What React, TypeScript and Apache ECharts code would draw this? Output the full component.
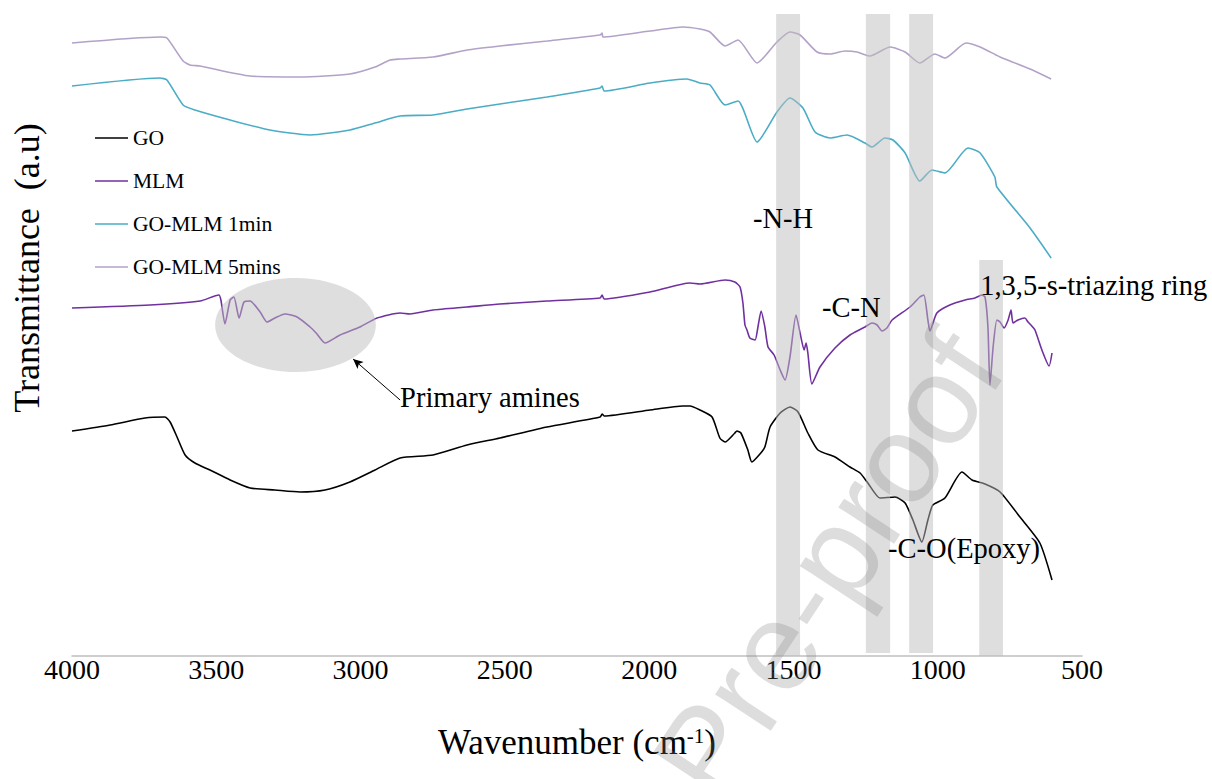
import React, { useEffect, useRef } from "react";
import * as echarts from "echarts";

// ---- series (wavenumber in cm-1, transmittance in arbitrary units) ----
const seriesNames = ["GO", "MLM", "GO-MLM 1min", "GO-MLM 5mins"];
const seriesColors = ["#000000", "#7030a0", "#4bacc6", "#b3a2c7"];

const goWn = [4000, 3868, 3747, 3678, 3660, 3636, 3608, 3574, 3522, 3452, 3383, 3297, 3210, 3123, 3037, 2950, 2863, 2749, 2631, 2517, 2354, 2170, 2163, 2156, 1997, 1883, 1858, 1824, 1782, 1755, 1737, 1703, 1696, 1682, 1658, 1644, 1616, 1599, 1581, 1546, 1512, 1484, 1450, 1415, 1356, 1304, 1269, 1242, 1200, 1148, 1113, 1086, 1055, 1034, 1017, 975, 916, 881, 836, 784, 715, 646, 604];
const goT = [225, 231, 238, 239, 234, 219, 201, 193, 186, 176, 168, 166, 164, 166, 174, 186, 198, 201, 211, 218, 229, 239, 242, 240, 246, 250, 250, 246, 239, 218, 214, 223, 225, 223, 206, 194, 202, 209, 229, 243, 249, 244, 223, 206, 199, 189, 183, 173, 158, 159, 153, 136, 114, 136, 151, 158, 184, 176, 172, 164, 139, 113, 76];

const mlmWn = [4000, 3730, 3556, 3491, 3484, 3470, 3452, 3439, 3421, 3404, 3383, 3348, 3324, 3297, 3262, 3220, 3175, 3154, 3123, 3071, 3002, 2943, 2863, 2829, 2749, 2631, 2517, 2354, 2170, 2163, 2156, 1997, 1858, 1824, 1737, 1703, 1685, 1675, 1668, 1661, 1651, 1633, 1623, 1612, 1599, 1588, 1567, 1546, 1529, 1512, 1491, 1477, 1463, 1456, 1450, 1436, 1408, 1356, 1304, 1252, 1228, 1210, 1193, 1176, 1158, 1096, 1062, 1048, 1034, 1027, 1003, 958, 905, 871, 847, 836, 826, 819, 808, 795, 784, 770, 756, 746, 739, 722, 698, 687, 677, 663, 639, 614, 604];
const mlmT = [348, 351, 355, 361, 356, 332, 356, 359, 338, 354, 355, 344, 334, 338, 342, 339, 329, 323, 313, 321, 329, 338, 343, 342, 346, 349, 352, 355, 358, 361, 357, 364, 373, 372, 376, 374, 369, 353, 331, 326, 318, 316, 329, 345, 329, 309, 301, 286, 276, 299, 341, 323, 306, 313, 303, 272, 289, 308, 321, 329, 333, 331, 325, 328, 336, 349, 359, 361, 336, 325, 343, 351, 356, 358, 361, 359, 329, 271, 309, 336, 334, 328, 336, 346, 333, 336, 338, 334, 331, 326, 306, 290, 303];

const m1Wn = [4000, 3695, 3671, 3615, 3574, 3452, 3314, 3175, 3037, 2950, 2863, 2749, 2631, 2517, 2354, 2170, 2163, 2156, 1997, 1869, 1824, 1789, 1737, 1692, 1626, 1557, 1512, 1467, 1425, 1373, 1314, 1252, 1228, 1183, 1155, 1113, 1062, 1020, 975, 895, 853, 802, 795, 680, 607];
const m1T = [570, 578, 576, 551, 546, 536, 526, 521, 526, 533, 540, 541, 547, 552, 559, 568, 570, 565, 573, 577, 573, 571, 551, 555, 514, 544, 558, 548, 524, 518, 521, 513, 509, 518, 516, 503, 475, 486, 483, 508, 503, 479, 469, 428, 398];

const m5Wn = [4000, 3695, 3671, 3615, 3591, 3556, 3383, 3210, 3037, 2950, 2898, 2863, 2749, 2631, 2517, 2354, 2170, 2163, 2160, 1997, 1883, 1824, 1789, 1737, 1692, 1626, 1557, 1512, 1477, 1418, 1373, 1321, 1280, 1235, 1165, 1113, 1062, 1010, 975, 902, 853, 798, 784, 680, 607];
const m5T = [613, 619, 618, 595, 591, 590, 580, 579, 582, 589, 596, 597, 599, 606, 610, 615, 621, 623, 619, 625, 629, 627, 624, 610, 616, 593, 614, 624, 621, 604, 602, 605, 604, 600, 609, 604, 593, 602, 598, 613, 609, 601, 599, 587, 577];

// ---- axis ----
const xTicks = [500, 1000, 1500, 2000, 2500, 3000, 3500, 4000];

// ---- highlighted bands (wavenumber left/right, value top/bottom) ----
const bandLeft = [1560, 1249, 1099, 856];
const bandRight = [1477, 1165, 1016, 774];
const bandTop = [642, 642, 642, 396];
const bandBottom = [0, 3, 3, 0];

// ---- annotations ----
const noteTexts = ["-N-H", "-C-N", "1,3,5-s-triazing ring", "-C-O(Epoxy)", "Primary amines"];
const noteWn = [1640, 1401, 853, 1172, 2863];
const noteT = [438, 349, 371, 108, 259];

// ellipse around primary amines region
const ellipseWn = [3504, 2947]; // left, right
const ellipseT = [378, 284]; // top, bottom
// arrow from label to ellipse
const arrowWn = [2863, 3026];
const arrowT = [256, 297];

export default function App() {
  const ref = useRef<HTMLDivElement>(null);
  useEffect(() => {
    const chart = echarts.init(ref.current!, null, { renderer: "svg" });
    const serif = "Liberation Serif";
    const pair = (w: number[], t: number[]) => w.map((x, i) => [x, t[i]]);
    const bandFill = "rgba(190,190,190,0.5)";
    const datasets = [pair(goWn, goT), pair(mlmWn, mlmT), pair(m1Wn, m1T), pair(m5Wn, m5T)];

    const lineSeries: any[] = seriesNames.map((name, i) => ({
      name,
      type: "line",
      data: datasets[i],
      symbol: "none",
      smooth: 0.2,
      z: 2,
      lineStyle: { color: seriesColors[i], width: 1.6 },
      itemStyle: { color: seriesColors[i] },
    }));
    lineSeries[0].markLine = {
      silent: true,
      symbol: ["none", "arrow"],
      symbolSize: [7, 10],
      label: { show: false },
      lineStyle: { color: "#000", width: 1, type: "solid" },
      data: [[{ coord: [arrowWn[0], arrowT[0]] }, { coord: [arrowWn[1], arrowT[1]] }]],
    };

    chart.setOption({
      animation: false,
      backgroundColor: "#ffffff",
      grid: { left: 72, right: 130, top: 10, bottom: 123, containLabel: false },
      legend: {
        data: seriesNames.map((n) => ({ name: n, icon: "rect" })),
        orient: "vertical",
        left: 90,
        top: 122,
        itemWidth: 33,
        itemHeight: 1.6,
        itemGap: 21,
        textStyle: { color: "#000", fontSize: 21.5, fontFamily: serif },
      },
      xAxis: {
        type: "value",
        inverse: true,
        min: xTicks[0],
        max: xTicks[xTicks.length - 1],
        interval: 500,
        axisLine: { lineStyle: { color: "#bfbfbf", width: 1.5 } },
        axisTick: { show: false },
        splitLine: { show: false },
        axisLabel: { color: "#000", fontSize: 28, fontFamily: serif, margin: -1, formatter: (v: number) => String(v) },
        name: "Wavenumber (cm{sup|-1})",
        nameLocation: "middle",
        nameGap: 69,
        nameTextStyle: {
          color: "#000",
          fontSize: 35,
          fontFamily: serif,
          rich: { sup: { fontSize: 21, verticalAlign: "top", fontFamily: serif, color: "#000" } },
        },
      },
      yAxis: { type: "value", min: 0, max: 646, show: false },
      series: [
        ...lineSeries,
        {
          type: "custom",
          name: "bands",
          silent: true,
          z: 5,
          data: bandLeft.map((l, i) => [l, bandRight[i], bandTop[i], bandBottom[i]]),
          encode: { x: [0, 1], y: [2, 3] },
          renderItem: (_p: any, api: any) => {
            const a = api.coord([api.value(0), api.value(2)]);
            const b = api.coord([api.value(1), api.value(3)]);
            return {
              type: "rect",
              shape: { x: Math.min(a[0], b[0]), y: a[1], width: Math.abs(b[0] - a[0]), height: b[1] - a[1] },
              style: { fill: bandFill },
            };
          },
        },
      ],
    });

    const px = (w: number, t: number) => chart.convertToPixel({ gridIndex: 0 }, [w, t]) as number[];
    const eL = px(ellipseWn[0], ellipseT[0]);
    const eR = px(ellipseWn[1], ellipseT[1]);
    const graphics: any[] = [
      {
        type: "ellipse",
        z: 5,
        silent: true,
        shape: { cx: (eL[0] + eR[0]) / 2, cy: (eL[1] + eR[1]) / 2, rx: Math.abs(eR[0] - eL[0]) / 2, ry: Math.abs(eR[1] - eL[1]) / 2 },
        style: { fill: bandFill },
      },
    ];
    noteTexts.forEach((t, i) => {
      const p = px(noteWn[i], noteT[i]);
      graphics.push({
        type: "text",
        z: 8,
        x: p[0],
        y: p[1],
        style: { text: t, fill: "#000", fontSize: 28.5, fontFamily: serif, align: "left", verticalAlign: "middle" },
      });
    });
    graphics.push({
      type: "text",
      z: 8,
      x: 27,
      y: 268,
      rotation: Math.PI / 2,
      style: { text: "Transmittance  (a.u)", fill: "#000", fontSize: 36, fontFamily: serif, align: "center", verticalAlign: "middle" },
    });
    graphics.push({
      type: "text",
      z: 20,
      silent: true,
      x: 828,
      y: 565,
      rotation: (56.6 * Math.PI) / 180,
      style: { text: "Pre-proof", fill: "rgba(128,128,128,0.27)", fontSize: 126, fontFamily: "Liberation Sans", align: "center", verticalAlign: "middle" },
    });
    chart.setOption({ graphic: graphics });

    return () => chart.dispose();
  }, []);
  return (
    <div
      ref={ref}
      style={{ position: "fixed", left: 0, top: 0, width: 1212, height: 779, background: "#fff" }}
    />
  );
}
